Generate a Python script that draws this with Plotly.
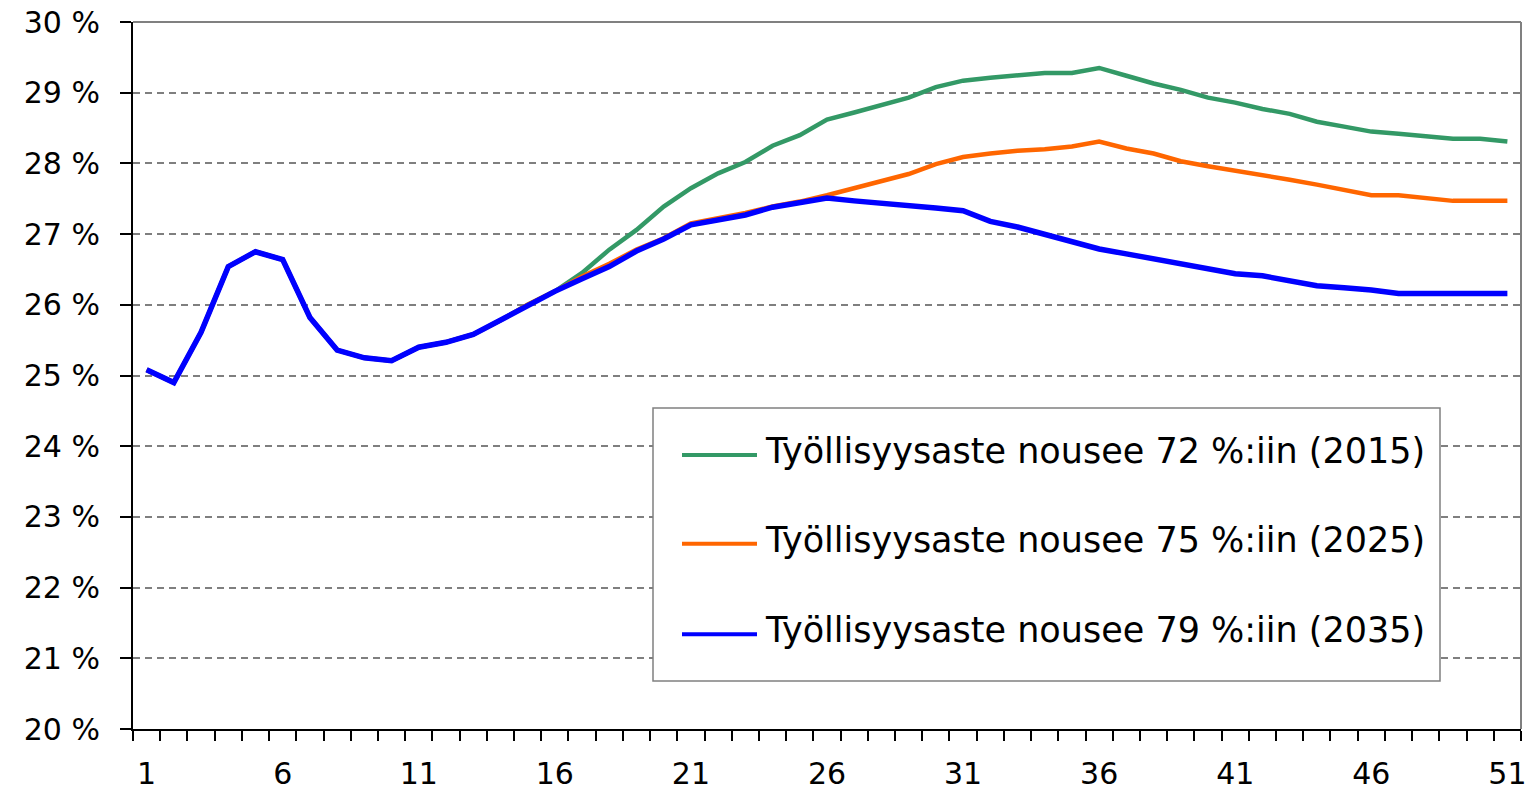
import plotly.graph_objects as go

# ---- data ----
periods = list(range(1, 52))
tick_labels = [1, 6, 11, 16, 21, 26, 31, 36, 41, 46, 51]

series_names = [
    "Työllisyysaste nousee 72 %:iin (2015)",
    "Työllisyysaste nousee 75 %:iin (2025)",
    "Työllisyysaste nousee 79 %:iin (2035)",
]
series_colors = ["#339966", "#FF6600", "#0000FF"]

common_start = [25.08, 24.90, 25.61, 26.54, 26.75, 26.64, 25.82, 25.36, 25.25, 25.21,
                25.40, 25.47, 25.58, 25.78, 26.00, 26.19]

green_72 = common_start + [
    26.45, 26.78, 27.06, 27.39, 27.65, 27.86, 28.02, 28.25, 28.40, 28.62,
    28.72, 28.82, 28.93, 29.08, 29.17, 29.21, 29.25, 29.28, 29.28, 29.35,
    29.24, 29.13, 29.04, 28.93, 28.86, 28.77, 28.70, 28.59, 28.52, 28.45,
    28.42, 28.38, 28.35, 28.35, 28.31]

orange_75 = common_start + [
    26.40, 26.58, 26.78, 26.94, 27.15, 27.22, 27.30, 27.39, 27.46, 27.55,
    27.65, 27.75, 27.85, 27.99, 28.09, 28.14, 28.18, 28.20, 28.24, 28.31,
    28.21, 28.14, 28.03, 27.96, 27.90, 27.84, 27.77, 27.70, 27.62, 27.55,
    27.55, 27.51, 27.47, 27.47, 27.47]

blue_79 = common_start + [
    26.37, 26.54, 26.76, 26.93, 27.13, 27.20, 27.27, 27.38, 27.44, 27.51,
    27.47, 27.44, 27.40, 27.37, 27.33, 27.18, 27.10, 27.00, 26.89, 26.79,
    26.72, 26.65, 26.58, 26.51, 26.44, 26.41, 26.34, 26.27, 26.24, 26.21,
    26.16, 26.16, 26.16, 26.16, 26.16]

all_series = [green_72, orange_75, blue_79]
line_widths = [4.5, 4.5, 5.5]

# ---- figure ----
W, H = 1536, 790
ML, MT = 133, 22
PW, PH = 1388, 707
MR = W - ML - PW
MB = H - MT - PH


def px_x(p):
    return (p - ML) / PW


def px_y(p):
    return (MT + PH - p) / PH


FONT = "DejaVu Sans"

fig = go.Figure()
for name, vals, col, lw in zip(series_names, all_series, series_colors, line_widths):
    fig.add_trace(go.Scatter(
        x=periods, y=vals, mode="lines", name=name,
        line=dict(color=col, width=lw), showlegend=False,
    ))

shapes = [
    dict(type="line", xref="paper", yref="paper", x0=0, x1=1, y0=1, y1=1,
         line=dict(color="#808080", width=2), layer="above"),
    dict(type="line", xref="paper", yref="paper", x0=1, x1=1, y0=0, y1=1,
         line=dict(color="#808080", width=2), layer="above"),
    dict(type="rect", xref="paper", yref="paper",
         x0=px_x(653), x1=px_x(1440), y0=px_y(681), y1=px_y(408),
         fillcolor="white", line=dict(color="#808080", width=1.5), layer="above"),
]
annotations = []
line_rows = [455, 543.7, 634.3]
text_rows = [451, 540, 630]
for name, col, ly, ty in zip(series_names, series_colors, line_rows, text_rows):
    shapes.append(dict(type="line", xref="paper", yref="paper",
                       x0=px_x(682), x1=px_x(757), y0=px_y(ly), y1=px_y(ly),
                       line=dict(color=col, width=4), layer="above"))
    annotations.append(dict(xref="paper", yref="paper", x=px_x(763), y=px_y(ty),
                            xanchor="left", yanchor="middle", showarrow=False,
                            text=name, font=dict(family=FONT, size=35, color="black")))

fig.update_layout(
    width=W, height=H,
    margin=dict(l=ML, r=MR, t=MT, b=MB, pad=0, autoexpand=False),
    paper_bgcolor="white", plot_bgcolor="white",
    shapes=shapes, annotations=annotations,
    showlegend=False,
)
fig.update_xaxes(
    range=[0.5, 51.5], tickmode="array", tickvals=tick_labels,
    ticktext=[str(t) for t in tick_labels],
    ticks="", showgrid=False, zeroline=False, automargin=False,
    showline=True, linecolor="black", linewidth=2,
    tickfont=dict(family=FONT, size=30, color="black"),
    ticklabelstandoff=17,
    minor=dict(ticks="outside", tick0=0.5, dtick=1, ticklen=10,
               tickcolor="black", tickwidth=1.5, showgrid=False),
)
fig.update_yaxes(
    range=[20, 30], tickmode="linear", tick0=20, dtick=1,
    ticks="outside", ticklen=11, tickcolor="black", tickwidth=1.5,
    ticksuffix=" %", tickformat="d", automargin=False,
    showline=True, linecolor="black", linewidth=2, zeroline=False,
    showgrid=True, gridcolor="#7f7f7f", gridwidth=1.5, griddash="7px,5px",
    tickfont=dict(family=FONT, size=30, color="black"),
    ticklabelstandoff=14,
)

fig.write_html(
    "out.html",
    config={"displayModeBar": False},
    post_script="document.body.style.margin='0px';document.body.style.overflow='hidden';",
)
